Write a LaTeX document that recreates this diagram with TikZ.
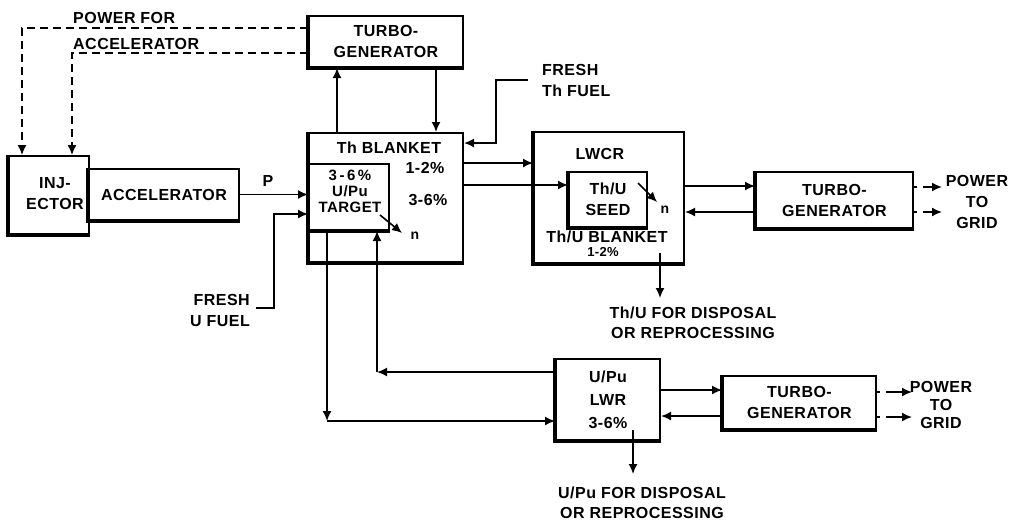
\documentclass[tikz,border=0pt]{standalone}
\usepackage{fontspec}
\setmainfont{Liberation Sans}[LetterSpace=3]
\usetikzlibrary{arrows.meta}
\begin{document}
\begin{tikzpicture}[x=1pt,y=-1pt,
  font=\fontsize{16}{21}\selectfont\bfseries,
  box/.style={draw,line width=2pt,inner sep=0pt,align=center,anchor=north west},
  lbl/.style={inner sep=0pt,align=center},
  small/.style={font=\fontsize{14}{16}\selectfont\bfseries},
  ln/.style={line width=1.6pt},
  arr/.style={ln,-{Latex[length=10pt,width=9pt]}},
  dsh/.style={line width=1.5pt,dash pattern=on 8pt off 5pt,-{Latex[length=10pt,width=9pt]}},
  pwr/.style={line width=1.6pt,dash pattern=on 3pt off 6pt on 40pt,-{Latex[length=10pt,width=9pt]}},
  heavy/.style={line width=3.6pt}
]
\fill[white] (0,0) rectangle (1011,523);
\useasboundingbox (0,0) rectangle (1011,523);

% boxes
\node[box,minimum width=154pt,minimum height=51pt] (tgtop) at (308,15) {TURBO-\\GENERATOR};
\node[box,minimum width=80pt,minimum height=78pt] (inj) at (8,155) {};
\node[box,minimum width=150pt,minimum height=51pt] (acc) at (88,168) {ACCELERATOR};
\node[box,minimum width=154pt,minimum height=129pt] (blanket) at (308,132) {};
\node[box,minimum width=80pt,minimum height=66pt] (target) at (308,163) {};
\node[box,minimum width=150pt,minimum height=131pt] (lwcr) at (533,131) {};
\node[box,minimum width=78pt,minimum height=55pt] (seed) at (568,171) {Th/U\\SEED};
\node[box,minimum width=157pt,minimum height=56pt] (tg2) at (755,171) {TURBO-\\GENERATOR};
\node[box,minimum width=104pt,minimum height=81pt,font=\fontsize{16}{23}\selectfont\bfseries] (lwr) at (555,358) {U/Pu\\LWR\\3-6\%};
\node[box,minimum width=153pt,minimum height=53pt] (tg3) at (722,375) {TURBO-\\GENERATOR};

\foreach \n in {tgtop,inj,acc,blanket,target,lwcr,seed,tg2,lwr,tg3}
  \draw[heavy] (\n.north west) -- (\n.south west) -- (\n.south east);

% labels
\node[lbl] (injt) at (55,194) {INJ-\\ECTOR};
\node[lbl,anchor=west] (pf) at (73,18) {POWER FOR};
\node[lbl,anchor=west] (pa) at (73,44) {ACCELERATOR};
\node[lbl] (thb) at (389,148) {Th BLANKET};
\node[lbl] (p12) at (425,168) {1-2\%};
\node[lbl] (p36) at (428,200) {3-6\%};
\node[lbl,font=\fontsize{15}{16}\selectfont\bfseries] (tgtt) at (350,191) {3\,-\,6\,\%\\U/Pu\\TARGET};
\node[lbl] (plab) at (268,181) {P};
\node[lbl,align=left,anchor=west] (fth) at (542,80) {FRESH\\Th FUEL};
\node[lbl,align=right,anchor=east] (fuu) at (250,310) {FRESH\\U FUEL};
\node[lbl,small] (n1) at (415,236) {n};
\node[lbl,small] (n2) at (665,210) {n};
\node[lbl] (lwcrt) at (600,154) {LWCR};
\node[lbl] (thub) at (607,237) {Th/U BLANKET};
\node[lbl,font=\fontsize{13}{14}\selectfont\bfseries] (p12b) at (603,252) {1-2\%};
\node[lbl,font=\fontsize{16}{20}\selectfont\bfseries] (disp1) at (693,323) {Th/U FOR DISPOSAL\\OR REPROCESSING};
\node[lbl,font=\fontsize{16}{20}\selectfont\bfseries] (disp2) at (642,503) {U/Pu FOR DISPOSAL\\OR REPROCESSING};
\node[lbl] (grid1) at (977,202) {POWER\\TO\\GRID};
\node[lbl,font=\fontsize{16}{18}\selectfont\bfseries] (grid2) at (941,405) {POWER\\TO\\GRID};

% coordinates
\coordinate (dA) at (22,28);
\coordinate (dB) at (72,53);
\coordinate (uA) at (337,0);
\coordinate (uB) at (436,0);
\coordinate (fu) at (256,308);
\coordinate (fuc) at (274,214);
\coordinate (ft) at (528,80);
\coordinate (ftc) at (496,143);
\coordinate (bo1) at (0,163);
\coordinate (bo2) at (0,185);
\coordinate (lo1) at (0,186);
\coordinate (lo2) at (0,212);
\coordinate (pw1) at (942,187);
\coordinate (pw2) at (942,212);
\coordinate (ld) at (660,253);
\coordinate (ld2) at (660,298);
\coordinate (tc1) at (327,421);
\coordinate (tc2) at (377,372);
\coordinate (wo1) at (0,390);
\coordinate (wo2) at (0,416);
\coordinate (pw3) at (912,392);
\coordinate (pw4) at (912,417);
\coordinate (wd) at (633,430);
\coordinate (wd2) at (633,474);
\coordinate (na) at (380,215);
\coordinate (nb) at (402,233);
\coordinate (nc) at (638,183);
\coordinate (nd) at (657,202);

% dashed power lines
\draw[dsh] (tgtop.west |- dA) -- (dA) -- (dA |- inj.north);
\draw[dsh] (tgtop.west |- dB) -- (dB) -- (dB |- inj.north);

% turbo <-> blanket
\draw[arr] (uA |- blanket.north) -- (uA |- tgtop.south);
\draw[arr] (uB |- tgtop.south) -- (uB |- blanket.north);

% P beam
\draw[arr] (acc.east) -- (acc.east -| blanket.west);

% fresh fuels
\draw[arr] (fu) -| (fuc) -- (fuc -| blanket.west);
\draw[arr] (ft) -| (ftc) -- (ftc -| blanket.east);

% blanket -> LWCR
\draw[arr] (blanket.east |- bo1) -- (lwcr.west |- bo1);
\draw[arr] (blanket.east |- bo2) -- (seed.west |- bo2);

% LWCR <-> turbo
\draw[arr] (lwcr.east |- lo1) -- (tg2.west |- lo1);
\draw[arr] (tg2.west |- lo2) -- (lwcr.east |- lo2);
\draw[pwr] (tg2.east |- pw1) -- (pw1);
\draw[pwr] (tg2.east |- pw2) -- (pw2);
\draw[arr] (ld) -- (ld2);

% target <-> LWR
\draw[arr] (tc1 |- target.south) -- (tc1);
\draw[arr] (tc1) -- (tc1 -| lwr.west);
\draw[arr] (lwr.west |- tc2) -- (tc2);
\draw[arr] (tc2) -- (tc2 |- target.south);

% LWR <-> turbo
\draw[arr] (lwr.east |- wo1) -- (tg3.west |- wo1);
\draw[arr] (tg3.west |- wo2) -- (lwr.east |- wo2);
\draw[pwr] (tg3.east |- pw3) -- (pw3);
\draw[pwr] (tg3.east |- pw4) -- (pw4);
\draw[arr] (wd) -- (wd2);

% neutrons
\draw[arr] (na) -- (nb);
\draw[arr] (nc) -- (nd);
\end{tikzpicture}
\end{document}
